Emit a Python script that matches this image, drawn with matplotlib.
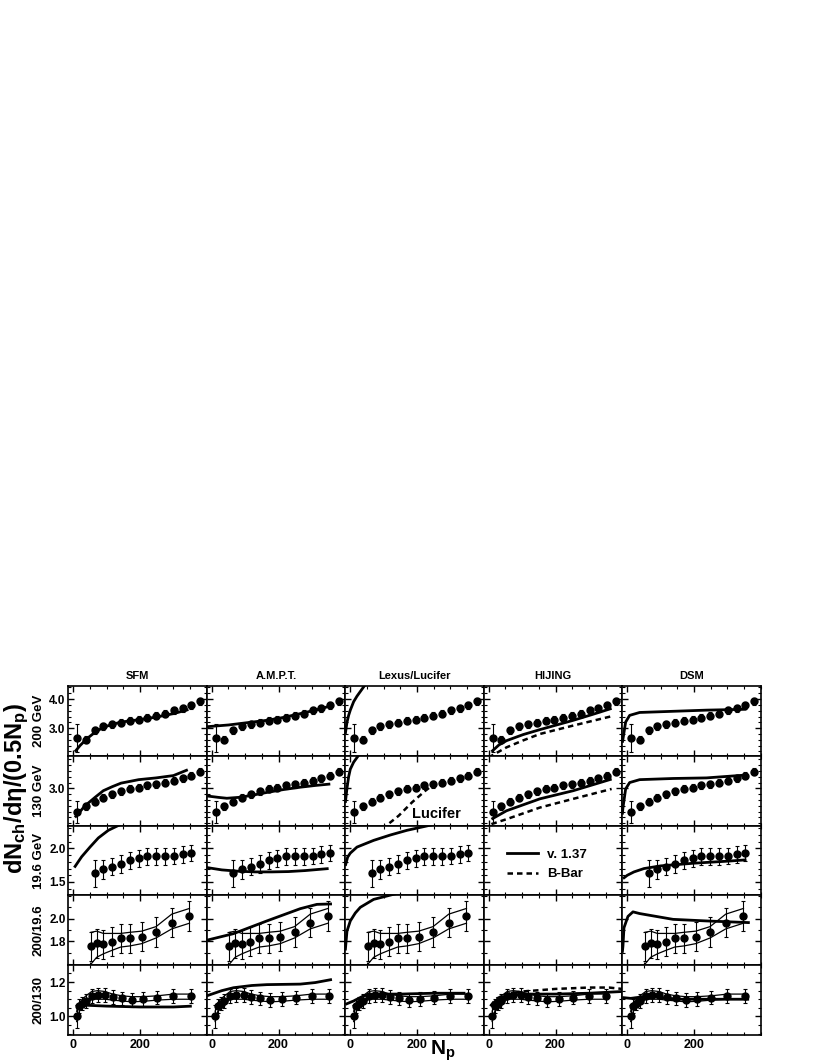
import matplotlib
matplotlib.use("Agg")
import matplotlib.pyplot as plt
from matplotlib.ticker import MultipleLocator, FixedLocator, NullFormatter
from matplotlib.lines import Line2D

plt.rcParams['font.family'] = ['Liberation Sans', 'DejaVu Sans']
plt.rcParams['font.weight'] = 'bold'
plt.rcParams['mathtext.fontset'] = 'custom'
plt.rcParams['mathtext.rm'] = 'Liberation Sans:bold'
plt.rcParams['mathtext.it'] = 'Liberation Sans:bold'
plt.rcParams['mathtext.bf'] = 'Liberation Sans:bold'

# ---- PHOBOS data ----
npart = [12, 38, 64, 90, 117, 143, 170, 196, 222, 248, 275, 302, 328, 353, 380]
dn_200 = [2.67, 2.60, 2.92, 3.06, 3.13, 3.19, 3.26, 3.29, 3.36, 3.43, 3.49, 3.61, 3.68, 3.79, 3.93]
err_200 = [0.48, 0.12, 0.12, 0.12, 0.12, 0.12, 0.12, 0.12, 0.12, 0.12, 0.12, 0.12, 0.12, 0.12, 0.12]
dn_130 = [2.60, 2.69, 2.77, 2.84, 2.90, 2.95, 2.99, 3.01, 3.05, 3.07, 3.10, 3.13, 3.17, 3.22, 3.29]
err_130 = [0.19, 0.06, 0.06, 0.06, 0.06, 0.06, 0.06, 0.06, 0.06, 0.06, 0.06, 0.06, 0.06, 0.06, 0.06]
npart_19 = [64, 90, 117, 143, 170, 196, 222, 248, 275, 302, 328, 353]
dn_19 = [1.63, 1.69, 1.73, 1.77, 1.82, 1.85, 1.88, 1.88, 1.88, 1.885, 1.91, 1.93]
err_19 = [0.20, 0.14, 0.13, 0.13, 0.12, 0.12, 0.12, 0.12, 0.12, 0.12, 0.12, 0.12]

npart_r19 = [53, 70, 90, 115, 142, 170, 205, 248, 295, 348]
ratio_19 = [1.756, 1.782, 1.774, 1.797, 1.826, 1.826, 1.841, 1.882, 1.965, 2.023]
err_r19 = [0.13, 0.13, 0.13, 0.13, 0.13, 0.13, 0.13, 0.13, 0.13, 0.13]
band_hi_19 = [1.88, 1.89, 1.87, 1.87, 1.87, 1.88, 1.89, 1.93, 2.04, 2.09]
band_lo_19 = [1.60, 1.66, 1.69, 1.72, 1.75, 1.76, 1.78, 1.83, 1.91, 1.96]

npart_r130 = [10, 18, 27, 38, 55, 73, 95, 118, 145, 175, 210, 252, 300, 352]
ratio_130 = [1.00, 1.06, 1.075, 1.09, 1.12, 1.125, 1.125, 1.115, 1.105, 1.097, 1.10, 1.11, 1.12, 1.12]
err_r130 = [0.065, 0.04, 0.04, 0.04, 0.04, 0.04, 0.04, 0.04, 0.04, 0.04, 0.04, 0.04, 0.04, 0.04]
band_hi_130 = [1.03, 1.08, 1.10, 1.12, 1.145, 1.15, 1.145, 1.13, 1.12, 1.115, 1.115, 1.12, 1.13, 1.13]
band_lo_130 = [0.97, 1.03, 1.05, 1.07, 1.10, 1.10, 1.10, 1.095, 1.09, 1.085, 1.088, 1.095, 1.10, 1.10]

# ---- model curves ----
sfm_200_x = [5, 20, 40, 65, 90, 117, 143, 196, 248, 300, 345]
sfm_200 = [2.19, 2.40, 2.63, 2.86, 3.03, 3.13, 3.21, 3.29, 3.38, 3.50, 3.64]
sfm_130_x = [5, 35, 65, 90, 117, 143, 196, 248, 300, 343]
sfm_130 = [2.50, 2.70, 2.845, 2.96, 3.03, 3.09, 3.15, 3.18, 3.22, 3.32]
sfm_19_x = [3, 25, 50, 75, 105, 130, 160]
sfm_19 = [1.715, 1.876, 2.02, 2.156, 2.27, 2.33, 2.40]
sfm_r130_x = [15, 40, 100, 200, 300, 355]
sfm_r130 = [1.06, 1.065, 1.06, 1.055, 1.055, 1.06]

ampt_200_x = [-15, 50, 100, 165, 215, 265, 310, 355]
ampt_200 = [3.05, 3.11, 3.18, 3.27, 3.37, 3.50, 3.62, 3.76]
ampt_130_x = [-15, 20, 45, 80, 115, 165, 215, 265, 310, 355]
ampt_130 = [2.87, 2.845, 2.83, 2.845, 2.875, 2.93, 2.98, 3.02, 3.05, 3.075]
ampt_19_x = [-15, 30, 80, 130, 180, 230, 280, 350]
ampt_19 = [1.715, 1.68, 1.66, 1.65, 1.65, 1.655, 1.67, 1.70]
ampt_r19_x = [-15, 65, 165, 265, 315, 360]
ampt_r19 = [1.81, 1.868, 1.98, 2.088, 2.126, 2.13]
ampt_r130_x = [-15, 30, 65, 120, 165, 265, 310, 360]
ampt_r130 = [1.12, 1.15, 1.167, 1.18, 1.185, 1.188, 1.197, 1.215]

lexus_200_x = [-15, -10, -5, 0, 10, 20, 30, 45, 60]
lexus_200 = [2.8, 3.2, 3.44, 3.62, 3.91, 4.1, 4.26, 4.5, 4.7]
lexus_130_x = [-15, -10, -5, 0, 10, 25, 45]
lexus_130 = [2.75, 3.0, 3.2, 3.33, 3.45, 3.57, 3.7]
lucifer_130_x = [95, 145, 185, 225, 255]
lucifer_130 = [2.30, 2.53, 2.76, 2.96, 3.09]
lexus_19_x = [-15, -8, 0, 20, 70, 120, 170, 225, 260]
lexus_19 = [1.74, 1.87, 1.93, 2.02, 2.12, 2.20, 2.27, 2.33, 2.37]
lexus_r19_x = [-15, -10, 0, 15, 30, 70, 110, 150]
lexus_r19 = [1.72, 1.89, 1.98, 2.05, 2.10, 2.17, 2.20, 2.23]
lexus_r130_x = [-15, 10, 40, 70, 150, 250, 345]
lexus_r130 = [1.07, 1.09, 1.12, 1.13, 1.13, 1.135, 1.135]

hijing_200_x = [8, 30, 53, 103, 153, 203, 253, 310, 368]
hijing_200 = [2.19, 2.42, 2.57, 2.78, 2.95, 3.11, 3.27, 3.47, 3.68]
bbar_200_x = [0, 8, 53, 103, 153, 253, 368]
bbar_200 = [1.98, 2.05, 2.34, 2.58, 2.80, 3.09, 3.41]
hijing_130_x = [8, 53, 153, 253, 368]
hijing_130 = [2.47, 2.615, 2.82, 2.96, 3.16]
bbar_130_x = [8, 53, 153, 253, 368]
bbar_130 = [2.386, 2.47, 2.67, 2.82, 2.99]
hijing_r130_x = [5, 20, 50, 100, 200, 300, 400]
hijing_r130 = [1.06, 1.09, 1.12, 1.13, 1.13, 1.135, 1.145]
bbar_r130_x = [5, 20, 50, 100, 200, 300, 360, 400]
bbar_r130 = [1.06, 1.10, 1.13, 1.145, 1.16, 1.168, 1.168, 1.16]

dsm_200_x = [-15, -13, -5, 7, 37, 137, 237, 357]
dsm_200 = [2.50, 2.63, 3.21, 3.44, 3.54, 3.58, 3.62, 3.65]
dsm_130_x = [-15, -13, -5, 7, 37, 137, 237, 357]
dsm_130 = [2.55, 2.67, 2.99, 3.10, 3.15, 3.17, 3.18, 3.23]
dsm_19_x = [-13, 0, 20, 50, 100, 200, 300, 357]
dsm_19 = [1.55, 1.60, 1.65, 1.70, 1.74, 1.78, 1.81, 1.83]
dsm_r19_x = [-15, -13, -10, 2, 17, 37, 137, 237, 367]
dsm_r19 = [1.70, 1.76, 1.92, 2.02, 2.06, 2.045, 1.994, 1.98, 1.965]
dsm_r130_x = [-15, 10, 30, 60, 100, 150, 250, 365]
dsm_r130 = [1.11, 1.105, 1.11, 1.12, 1.11, 1.10, 1.10, 1.10]

models = ['SFM', 'A.M.P.T.', 'Lexus/Lucifer', 'HIJING', 'DSM']
row_labels = ['200 GeV', '130 GeV', '19.6 GeV', '200/19.6', '200/130']

# solid and dashed model curves by (row, col)
solid = {
    (0, 0): (sfm_200_x, sfm_200), (1, 0): (sfm_130_x, sfm_130),
    (2, 0): (sfm_19_x, sfm_19), (4, 0): (sfm_r130_x, sfm_r130),
    (0, 1): (ampt_200_x, ampt_200), (1, 1): (ampt_130_x, ampt_130),
    (2, 1): (ampt_19_x, ampt_19), (3, 1): (ampt_r19_x, ampt_r19),
    (4, 1): (ampt_r130_x, ampt_r130),
    (0, 2): (lexus_200_x, lexus_200), (1, 2): (lexus_130_x, lexus_130),
    (2, 2): (lexus_19_x, lexus_19), (3, 2): (lexus_r19_x, lexus_r19),
    (4, 2): (lexus_r130_x, lexus_r130),
    (0, 3): (hijing_200_x, hijing_200), (1, 3): (hijing_130_x, hijing_130),
    (4, 3): (hijing_r130_x, hijing_r130),
    (0, 4): (dsm_200_x, dsm_200), (1, 4): (dsm_130_x, dsm_130),
    (2, 4): (dsm_19_x, dsm_19), (3, 4): (dsm_r19_x, dsm_r19),
    (4, 4): (dsm_r130_x, dsm_r130),
}
dashed = {
    (1, 2): (lucifer_130_x, lucifer_130),
    (0, 3): (bbar_200_x, bbar_200), (1, 3): (bbar_130_x, bbar_130),
    (4, 3): (bbar_r130_x, bbar_r130),
}

row_ylim = [(2.05, 4.45), (2.36, 3.56), (1.30, 2.34), (1.59, 2.205), (0.892, 1.298)]
row_major = [[3.0, 4.0], [3.0], [1.5, 2.0], [1.8, 2.0], [1.0, 1.2]]
row_minor = [0.2, 0.1, 0.1, 0.1, 0.05]

W, H = 822, 1064
fig = plt.figure(figsize=(W / 100, H / 100), dpi=100)

left0, top0, cw, rh = 68.3, 686.0, 138.5, 69.8

for r in range(5):
    for c in range(5):
        x0 = left0 + c * cw
        y0 = top0 + r * rh
        ax = fig.add_axes([x0 / W, 1 - (y0 + rh) / H, cw / W, rh / H])
        ax.set_xlim(-15, 400)
        ax.set_ylim(*row_ylim[r])
        ax.xaxis.set_major_locator(FixedLocator([0, 200]))
        ax.xaxis.set_minor_locator(MultipleLocator(50))
        ax.yaxis.set_major_locator(FixedLocator(row_major[r]))
        ax.yaxis.set_minor_locator(MultipleLocator(row_minor[r]))
        ax.tick_params(which='both', direction='in', top=True, right=True,
                       labelsize=8.5, pad=2)
        ax.tick_params(which='major', length=4, width=1)
        ax.tick_params(which='minor', length=2.2, width=0.8)
        for s in ax.spines.values():
            s.set_linewidth(1.2)
        if r < 4:
            ax.xaxis.set_major_formatter(NullFormatter())
        else:
            ax.tick_params(axis='x', labelsize=9, pad=3)
        if c > 0:
            ax.yaxis.set_major_formatter(NullFormatter())
        else:
            ax.yaxis.set_major_formatter(lambda v, p: f"{v:.1f}")

        if r == 0:
            ax.set_title(models[c], fontsize=8, fontweight='bold', pad=5)

        # HIJING: legend in 19.6 GeV row, empty ratio panel
        if c == 3 and r == 2:
            handles = [Line2D([], [], color='k', lw=2.0),
                       Line2D([], [], color='k', lw=1.8, ls=(0, (2.2, 1.6)))]
            ax.legend(handles, ['v. 1.37', 'B-Bar'], loc='upper left',
                      bbox_to_anchor=(0.17, 0.67), frameon=False, fontsize=9.5,
                      handlelength=2.3, handletextpad=0.7, labelspacing=0.55,
                      borderpad=0, borderaxespad=0)
            continue
        if c == 3 and r == 3:
            continue

        if r == 0:
            ax.errorbar(npart, dn_200, yerr=err_200, fmt='o', color='k', ms=5,
                        elinewidth=0.8, capsize=1.6, capthick=0.8, zorder=3)
        elif r == 1:
            ax.errorbar(npart, dn_130, yerr=err_130, fmt='o', color='k', ms=5,
                        elinewidth=0.8, capsize=1.6, capthick=0.8, zorder=3)
        elif r == 2:
            ax.errorbar(npart_19, dn_19, yerr=err_19, fmt='o', color='k', ms=5,
                        elinewidth=0.8, capsize=1.6, capthick=0.8, zorder=3)
        elif r == 3:
            ax.plot(npart_r19, band_hi_19, color='k', lw=0.9)
            ax.plot(npart_r19, band_lo_19, color='k', lw=0.9)
            ax.errorbar(npart_r19, ratio_19, yerr=err_r19, fmt='o', color='k', ms=5,
                        elinewidth=0.8, capsize=1.6, capthick=0.8, zorder=3)
        else:
            ax.plot(npart_r130, band_hi_130, color='k', lw=0.9)
            ax.plot(npart_r130, band_lo_130, color='k', lw=0.9)
            ax.errorbar(npart_r130, ratio_130, yerr=err_r130, fmt='o', color='k', ms=5,
                        elinewidth=0.8, capsize=1.6, capthick=0.8, zorder=3)

        if (r, c) in solid:
            xs, ys = solid[(r, c)]
            ax.plot(xs, ys, color='k', lw=2.0, solid_capstyle='butt', zorder=4)
        if (r, c) in dashed:
            xs, ys = dashed[(r, c)]
            ax.plot(xs, ys, color='k', lw=1.8, ls=(0, (2.2, 1.6)), zorder=4)
        if (r, c) == (1, 2):
            ax.text(0.66, 0.16, 'Lucifer', transform=ax.transAxes, fontsize=10.5,
                    fontweight='bold', ha='center', va='center')

    fig.text(39 / W, 1 - (top0 + (r + 0.5) * rh) / H, row_labels[r], rotation=90,
             ha='center', va='center', fontsize=9.5, fontweight='bold')

fig.text(17 / W, 1 - 788 / H, r'$\mathrm{dN_{ch}/d\eta/(0.5N_p)}$', rotation=90,
         ha='center', va='center', fontsize=17)
fig.text(443 / W, 1 - 1051 / H, r'$\mathrm{N_p}$', ha='center', va='center',
         fontsize=15)

fig.savefig('out.png', dpi=100)
